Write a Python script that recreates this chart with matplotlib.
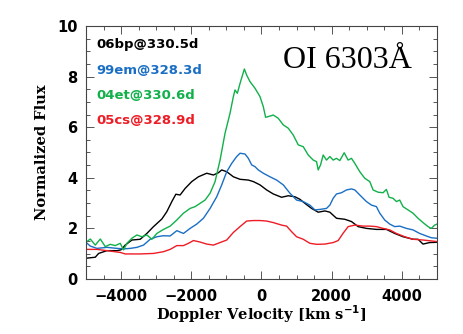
import numpy as np
import matplotlib
matplotlib.use("Agg")
import matplotlib.pyplot as plt
from matplotlib.ticker import MultipleLocator

# series names and colours
labels = ["06bp@330.5d", "99em@328.3d", "04et@330.6d", "05cs@328.9d"]
colors = ["#000000", "#1a6fc4", "#11b04a", "#ee1c25"]

# 06bp (black)
v_06bp = [-5000, -4735, -4640, -4403, -4118, -4005, -3882, -3692, -3455, -3265, -3076, -2839,
          -2697, -2554, -2440, -2318, -2175, -1986, -1796, -1559, -1370, -1227, -1133, -990,
          -801, -611, -374, -232, -43, 147, 337, 573, 763, 953, 1095, 1237, 1427, 1616, 1806,
          1948, 2137, 2374, 2564, 2754, 2990, 3275, 3559, 3796, 4033, 4318, 4460, 4602, 4791, 5000]
f_06bp = [0.82, 0.86, 1.01, 1.12, 1.12, 1.15, 1.34, 1.54, 1.57, 1.80, 2.07, 2.37,
          2.66, 3.06, 3.35, 3.32, 3.58, 3.85, 4.04, 4.18, 4.11, 4.20, 4.31, 4.24,
          4.04, 3.94, 3.91, 3.85, 3.72, 3.52, 3.36, 3.23, 3.29, 3.25, 3.15, 2.99, 2.79, 2.64, 2.69,
          2.64, 2.40, 2.36, 2.27, 2.07, 2.00, 1.96, 1.96, 1.80, 1.67, 1.57, 1.57, 1.38, 1.44, 1.45]

# 99em (blue)
v_99em = [-5000, -4877, -4687, -4403, -4118, -3930, -3739, -3550, -3360, -3171, -2981, -2791,
          -2602, -2412, -2223, -2033, -1844, -1654, -1464, -1275, -1133, -990, -848, -706, -611,
          -469, -374, -280, -185, -90, 52, 242, 431, 621, 811, 1000, 1190, 1379, 1522, 1664, 1853,
          1948, 2043, 2137, 2280, 2422, 2564, 2659, 2801, 2990, 3133, 3275, 3370, 3512, 3654,
          3796, 3938, 4128, 4318, 4507, 4697, 4839, 5000]
f_99em = [1.45, 1.30, 1.21, 1.25, 1.21, 1.19, 1.21, 1.25, 1.34, 1.57, 1.67, 1.71,
          1.70, 1.91, 1.80, 2.00, 2.17, 2.40, 2.79, 3.25, 3.72, 4.24, 4.57, 4.84, 4.97,
          4.94, 4.77, 4.51, 4.44, 4.31, 4.18, 4.04, 3.91, 3.72, 3.39, 3.12, 3.06, 2.92, 2.73, 2.75, 2.79,
          2.92, 3.19, 3.36, 3.41, 3.52, 3.56, 3.52, 3.32, 3.06, 2.92, 2.86, 2.60, 2.33, 2.17,
          2.07, 2.09, 2.00, 1.94, 1.80, 1.70, 1.63, 1.61]

# 04et (green)
v_04et = [-5000, -4877, -4735, -4592, -4450, -4308, -4166, -4024, -3930, -3834, -3692, -3550,
          -3408, -3265, -3123, -2981, -2791, -2602, -2412, -2223, -2033, -1891, -1749, -1607,
          -1464, -1322, -1180, -1038, -896, -801, -754, -687, -611, -488, -422, -327, -185, -43,
          52, 118, 194, 337, 479, 621, 763, 905, 1048, 1190, 1332, 1474, 1569, 1616, 1683, 1758,
          1853, 1948, 2043, 2137, 2232, 2356, 2469, 2564, 2659, 2801, 2943, 3085, 3180, 3322,
          3464, 3559, 3635, 3749, 3844, 3938, 4033, 4175, 4318, 4460, 4602, 4744, 4839, 4934, 5000]
f_04et = [1.45, 1.58, 1.34, 1.58, 1.28, 1.37, 1.32, 1.41, 1.15, 1.41, 1.61, 1.74,
          1.67, 1.74, 1.57, 1.80, 1.96, 2.09, 2.33, 2.60, 2.79, 2.86, 2.99, 3.12,
          3.39, 3.85, 4.70, 5.76, 6.55, 7.21, 7.47, 7.34, 7.73, 8.30, 8.06, 7.80, 7.54, 7.21,
          6.81, 6.39, 6.42, 6.48, 6.35, 6.09, 5.96, 5.69, 5.30, 5.23, 4.90, 4.70, 4.64, 4.31, 4.51, 4.90,
          4.70, 4.84, 4.70, 4.77, 4.68, 4.99, 4.70, 4.77, 4.57, 4.24, 3.98, 3.85, 3.52, 3.43,
          3.41, 3.54, 3.23, 3.19, 3.06, 3.12, 2.86, 2.73, 2.60, 2.40, 2.23, 2.07, 2.00, 2.13, 2.17]

# 05cs (red)
v_05cs = [-5000, -4687, -4403, -4024, -3882, -3455, -3076, -2791, -2602, -2412, -2223, -2081,
          -1938, -1749, -1559, -1370, -1180, -990, -801, -611, -422, -232, -43, 147, 337, 573,
          716, 858, 1000, 1190, 1379, 1569, 1806, 2043, 2185, 2327, 2469, 2659, 2896, 3085, 3275,
          3464, 3654, 3844, 4081, 4318, 4602, 5000]
f_05cs = [1.17, 1.17, 1.12, 1.05, 0.99, 0.99, 1.01, 1.08, 1.17, 1.32, 1.32, 1.41,
          1.52, 1.46, 1.38, 1.34, 1.44, 1.54, 1.84, 2.07, 2.29, 2.31, 2.31, 2.29, 2.23, 2.13,
          2.09, 1.87, 1.67, 1.57, 1.41, 1.37, 1.38, 1.44, 1.52, 1.81, 2.07, 2.13, 2.09, 2.09, 2.07,
          2.00, 1.94, 1.80, 1.67, 1.57, 1.54, 1.48]

velocities = [v_06bp, v_99em, v_04et, v_05cs]
fluxes = [f_06bp, f_99em, f_04et, f_05cs]

fig = plt.figure(figsize=(4.63, 3.34), dpi=100)
ax = fig.add_axes([0.1857, 0.1647, 0.7581, 0.7575])

for v, f, c in zip(velocities, fluxes, colors):
    ax.plot(v, f, color=c, lw=1.0)

ax.set_xlim(-5000, 5000)
ax.set_ylim(0, 10)
ax.xaxis.set_major_locator(MultipleLocator(2000))
ax.xaxis.set_minor_locator(MultipleLocator(500))
ax.yaxis.set_major_locator(MultipleLocator(2))
ax.yaxis.set_minor_locator(MultipleLocator(0.5))
ax.tick_params(which="both", direction="in", top=True, right=True, color="#555555", width=0.7)
ax.tick_params(which="major", length=6, labelsize=10.5)
ax.tick_params(axis="x", which="major", pad=7)
ax.tick_params(axis="y", which="major", pad=6)
ax.tick_params(which="minor", length=3)
for lab in ax.get_xticklabels() + ax.get_yticklabels():
    lab.set_fontweight("bold")
for sp in ax.spines.values():
    sp.set_color("#444444")
    sp.set_linewidth(0.8)

ax.set_xlabel(r"Doppler Velocity [km s$^{\mathbf{-1}}$]", family="DejaVu Serif",
              fontweight="bold", fontsize=10.5, labelpad=0)
ax.set_ylabel("Normalized Flux", family="DejaVu Serif", fontweight="bold", fontsize=10.5, labelpad=6)

# legend as coloured text
for i, (lab, c) in enumerate(zip(labels, colors)):
    ax.text(0.031, 0.925 - i * 0.099, lab, color=c, transform=ax.transAxes,
            fontsize=9.5, fontweight="bold", va="center", ha="left")

ax.text(0.56, 0.865, "OI 6303\u00c5", transform=ax.transAxes, family="Liberation Serif",
        fontsize=23, va="center", ha="left")

fig.savefig("out.png", dpi=100)
